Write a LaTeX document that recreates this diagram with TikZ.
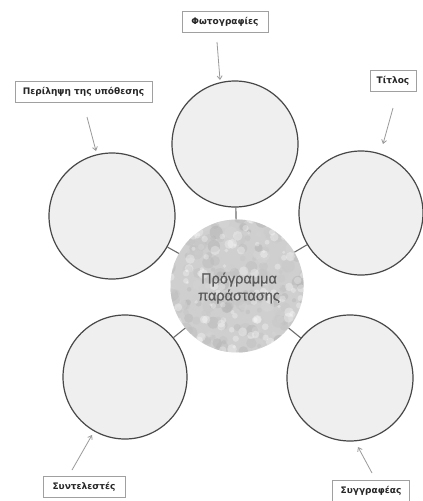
\documentclass[tikz,border=0pt]{standalone}
\usepackage{fontspec}
\setmainfont{Liberation Sans}
\newfontfamily\hubfont[FakeBold=0.8]{Liberation Sans}
\newfontfamily\labelfont{DejaVu Sans}
\usetikzlibrary{arrows.meta}
\definecolor{ringline}{HTML}{474747}
\definecolor{ringfill}{HTML}{EFEFEF}
\definecolor{hubfill}{HTML}{CFCFCF}
\definecolor{hubtext}{HTML}{5A5A5A}
\definecolor{pointer}{HTML}{9A9A9A}
\definecolor{boxline}{HTML}{A0A0A0}
\tikzset{
  ring/.style={circle, draw=ringline, line width=1.2pt, fill=ringfill, inner sep=0pt},
  hub/.style={circle, fill=hubfill, inner sep=0pt, minimum size=133pt},
  link/.style={draw=ringline!80, line width=1.1pt},
  tag/.style={draw=boxline, line width=0.9pt, fill=white, minimum height=21pt,
              inner sep=0pt, font=\labelfont\bfseries\fontsize{9}{10}\selectfont, text=black!85},
  pointerline/.style={draw=pointer, line width=0.8pt, -{Straight Barb[length=3.5pt,width=5pt]}}
}
\begin{document}
\begin{tikzpicture}[x=1pt, y=-1pt]
\useasboundingbox (0,0) rectangle (423,501);
\fill[white] (0,0) rectangle (423,501);

% central hub with mottled texture
\node[hub] (hub) at (237,286) {};
\begin{scope}
  \clip (237,286) circle (66.5pt);
  \pgfmathsetseed{11}
  \foreach \i in {1,...,240} {
    \pgfmathsetmacro\px{237+(rand*70)}
    \pgfmathsetmacro\py{286+(rand*70)}
    \pgfmathsetmacro\pr{2+5*rnd}
    \pgfmathsetmacro\sh{16+14*rnd}
    \fill[black!\sh!white, opacity=0.5] (\px,\py) circle (\pr pt);
  }
  \foreach \i in {1,...,140} {
    \pgfmathsetmacro\px{237+(rand*70)}
    \pgfmathsetmacro\py{286+(rand*70)}
    \pgfmathsetmacro\pr{1.5+3.5*rnd}
    \fill[white, opacity=0.3] (\px,\py) circle (\pr pt);
  }
\end{scope}
\node[text=hubtext, font=\hubfont\fontsize{14.5}{17}\selectfont, align=center] (hubtxt) at (239,288)
  {Πρόγραμμα\\παράστασης};

% outer rings
\node[ring, minimum size=126pt] (top)   at (235,144) {};
\node[ring, minimum size=126pt] (upl)   at (112,216) {};
\node[ring, minimum size=124pt] (upr)   at (361,213) {};
\node[ring, minimum size=124pt] (lowl)  at (125,377) {};
\node[ring, minimum size=126pt] (lowr)  at (350,378) {};

% short links between hub and rings
\draw[link] (hub) -- (top);
\draw[link] (hub) -- (upl);
\draw[link] (hub) -- (upr);
\draw[link] (hub) -- (lowl);
\draw[link] (hub) -- (lowr);

% labels
\node[tag, minimum width=86pt]  (tphoto)  at (225,22)    {Φωτογραφίες};
\node[tag, minimum width=137pt] (tplot)   at (83.5,91.5) {Περίληψη της υπόθεσης};
\node[tag, minimum width=46pt]  (ttitle)  at (393,81)    {Τίτλος};
\node[tag, minimum width=82pt]  (tcrew)   at (84,486.5)  {Συντελεστές};
\node[tag, minimum width=77pt]  (tauthor) at (371,491)   {Συγγραφέας};

% pointer ends
\coordinate (pphotoA)  at (217,42);   \coordinate (pphotoB)  at (220,80);
\coordinate (pplotA)   at (87,117);   \coordinate (pplotB)   at (96,151);
\coordinate (ptitleA)  at (393,108);  \coordinate (ptitleB)  at (383,144);
\coordinate (pcrewA)   at (72,470);   \coordinate (pcrewB)   at (92,435);
\coordinate (pauthorA) at (372,473);  \coordinate (pauthorB) at (358,447);

\draw[pointerline] (pphotoA) -- (pphotoB);
\draw[pointerline] (pplotA) -- (pplotB);
\draw[pointerline] (ptitleA) -- (ptitleB);
\draw[pointerline] (pcrewA) -- (pcrewB);
\draw[pointerline] (pauthorA) -- (pauthorB);
\end{tikzpicture}
\end{document}
